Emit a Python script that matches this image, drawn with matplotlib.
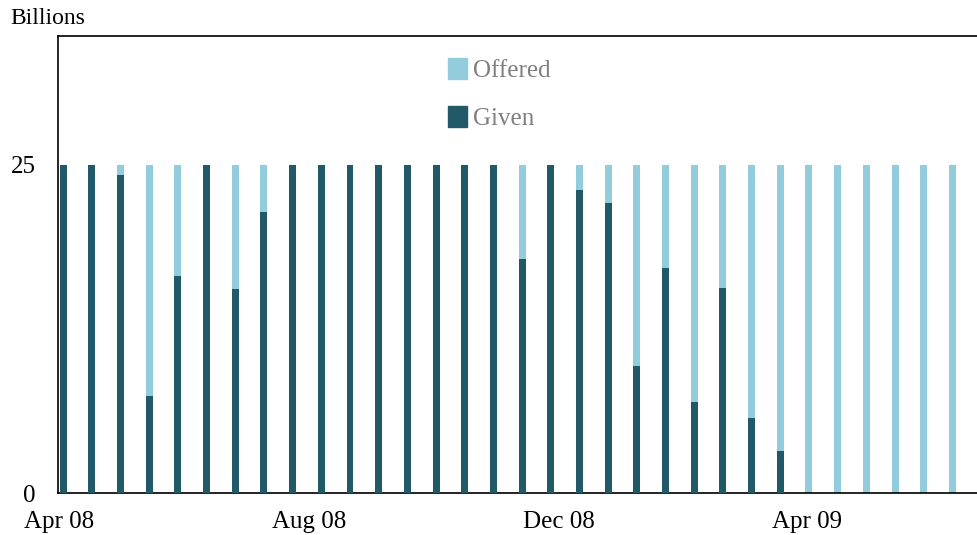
import matplotlib
matplotlib.use("Agg")
import matplotlib.pyplot as plt
import matplotlib.dates as mdates
import matplotlib.patches as mpatches
import pandas as pd

auction_dates = [
    "2008-04-03", "2008-04-17", "2008-05-01", "2008-05-15", "2008-05-29",
    "2008-06-12", "2008-06-26", "2008-07-10", "2008-07-24", "2008-08-07",
    "2008-08-21", "2008-09-04", "2008-09-18", "2008-10-02", "2008-10-16",
    "2008-10-30", "2008-11-13", "2008-11-27", "2008-12-11", "2008-12-25",
    "2009-01-08", "2009-01-22", "2009-02-05", "2009-02-19", "2009-03-05",
    "2009-03-19", "2009-04-02", "2009-04-16", "2009-04-30", "2009-05-14",
    "2009-05-28", "2009-06-11",
]
offered = [25] * 32
given = [25, 25, 24.2, 7.4, 16.5, 25, 15.5, 21.4,
         25, 25, 25, 25, 25, 25, 25, 25,
         17.8, 25, 23.1, 22.1, 9.7, 17.1, 6.9, 15.6,
         5.7, 3.2, 0, 0, 0, 0, 0, 0]
tick_dates = ["2008-04-01", "2008-08-01", "2008-12-01", "2009-04-01"]
tick_labels = ["Apr 08", "Aug 08", "Dec 08", "Apr 09"]

light = "#93CDDD"
dark = "#215968"
font = "Liberation Serif"
plt.rcParams["font.family"] = [font, "DejaVu Serif"]

x = mdates.date2num(pd.to_datetime(auction_dates))
fig = plt.figure(figsize=(9.77, 5.35), dpi=100)
ax = fig.add_axes([58 / 977, 1 - 493 / 535, 1 - 58 / 977, (493 - 36) / 535])

w = 3.4
ax.bar(x, offered, width=w, color=light, zorder=2)
ax.bar(x, given, width=w, color=dark, zorder=3)

ax.set_ylim(0, 34.8)
ax.set_yticks([0, 25])
ax.set_yticklabels(["0", "25"], fontsize=18)
x0 = mdates.date2num(pd.Timestamp("2008-04-01")) - 0.5
ax.set_xlim(x0, x0 + 448.5)
ax.set_xticks(mdates.date2num(pd.to_datetime(tick_dates)))
ax.set_xticklabels(tick_labels, fontsize=18)
ax.tick_params(axis="both", length=0)
ax.tick_params(axis="y", pad=16)
ax.tick_params(axis="x", pad=13)
ax.spines["right"].set_visible(False)
for s in ["left", "bottom", "top"]:
    ax.spines[s].set_linewidth(1.2)

fig.text(10 / 977, 1 - 18 / 535, "Billions", fontsize=17, va="center", ha="left")

handles = [mpatches.Patch(color=light, label="Offered"),
           mpatches.Patch(color=dark, label="Given")]
leg = ax.legend(handles=handles, loc="upper left", bbox_to_anchor=(448 / 977, 1 - 58 / 535),
                bbox_transform=fig.transFigure, frameon=False, fontsize=18,
                labelcolor="#7F7F7F", handlelength=0.75, handleheight=0.9,
                handletextpad=0.25, labelspacing=0.95, borderaxespad=0, borderpad=0)

fig.savefig("out.png", dpi=100)
